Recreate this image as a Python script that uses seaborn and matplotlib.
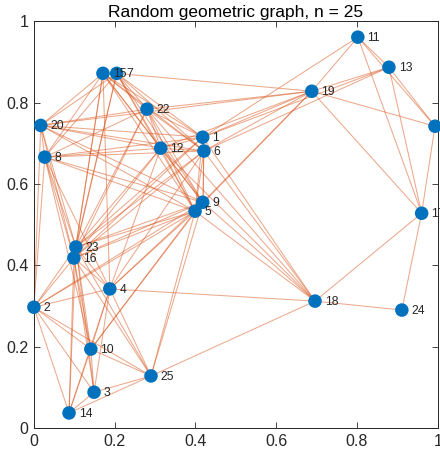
import matplotlib
matplotlib.use('Agg')
import matplotlib.pyplot as plt
import seaborn as sns
import pandas as pd

# Node positions (node id -> x, y)
node_ids = list(range(1, 26))
node_x = [0.418, 0.000, 0.149, 0.188, 0.399, 0.421, 0.205, 0.027, 0.418, 0.141,
          0.802, 0.314, 0.879, 0.087, 0.171, 0.099, 0.960, 0.696, 0.688, 0.017,
          0.993, 0.280, 0.104, 0.911, 0.290]
node_y = [0.715, 0.297, 0.088, 0.342, 0.533, 0.681, 0.872, 0.666, 0.555, 0.194,
          0.961, 0.688, 0.887, 0.037, 0.872, 0.418, 0.528, 0.312, 0.828, 0.744,
          0.742, 0.784, 0.445, 0.290, 0.128]

# Edge list (undirected)
edges = [
    (15, 7), (15, 20), (15, 8), (15, 22), (15, 12), (15, 1), (15, 6), (15, 5), (15, 9),
    (15, 23), (15, 16), (15, 4),
    (7, 20), (7, 8), (7, 22), (7, 12), (7, 1), (7, 6), (7, 5), (7, 9), (7, 23), (7, 16), (7, 19),
    (20, 8), (20, 22), (20, 12), (20, 1), (20, 6), (20, 5), (20, 9), (20, 23), (20, 16), (20, 2), (20, 19),
    (8, 22), (8, 12), (8, 6), (8, 1), (8, 5), (8, 9), (8, 23), (8, 16), (8, 2), (8, 10), (8, 4),
    (22, 12), (22, 1), (22, 6), (22, 5), (22, 9), (22, 23), (22, 16), (22, 18), (22, 19),
    (12, 1), (12, 6), (12, 5), (12, 9), (12, 23), (12, 16), (12, 4), (12, 18), (12, 19),
    (1, 6), (1, 5), (1, 9), (1, 23), (1, 16), (1, 18), (1, 19), (1, 11), (1, 13),
    (6, 5), (6, 9), (6, 23), (6, 16), (6, 4), (6, 18), (6, 19), (6, 13),
    (9, 5), (9, 23), (9, 16), (9, 4), (9, 2), (9, 10), (9, 25), (9, 18), (9, 19),
    (5, 23), (5, 16), (5, 4), (5, 2), (5, 10), (5, 25), (5, 18), (5, 19),
    (23, 16), (23, 2), (23, 4), (23, 10), (23, 3), (23, 14), (23, 25),
    (16, 2), (16, 4), (16, 10), (16, 3), (16, 14), (16, 25),
    (4, 2), (4, 10), (4, 14), (4, 25), (4, 3), (4, 18),
    (2, 10), (2, 3), (2, 14), (2, 25),
    (10, 3), (10, 14), (10, 25),
    (3, 14), (3, 25), (14, 25),
    (11, 19), (11, 13), (11, 21), (11, 17),
    (13, 19), (13, 21), (13, 17),
    (19, 21), (19, 17), (21, 17),
    (17, 24), (17, 18), (18, 24), (18, 25),
]

nodes = pd.DataFrame({'id': node_ids, 'x': node_x, 'y': node_y}).set_index('id')

sns.set_theme(style='white')
plt.rcParams['font.family'] = ['Liberation Sans', 'DejaVu Sans']

fig = plt.figure(figsize=(4.4, 4.58), dpi=100)
ax = fig.add_axes([0.077, 0.0655, 0.918, 0.888])

# Edges
for a, b in edges:
    ax.plot([nodes.loc[a, 'x'], nodes.loc[b, 'x']],
            [nodes.loc[a, 'y'], nodes.loc[b, 'y']],
            color='#D95319', alpha=0.5, lw=0.75, zorder=1, solid_capstyle='butt')

# Nodes
sns.scatterplot(data=nodes.reset_index(), x='x', y='y', ax=ax, s=95,
                color='#0072BD', edgecolor='none', zorder=3, clip_on=False, legend=False)

# Node labels (the ones beside the right edge run off the figure, as in the original)
for nid, row in nodes.iterrows():
    ax.annotate(str(nid), (row['x'], row['y']), xytext=(7, -0.5),
                textcoords='offset points', va='center', ha='left',
                fontsize=8.7, color='#262626', annotation_clip=False, zorder=4)

ax.set_xlim(0, 1)
ax.set_ylim(0, 1)
ax.set_xticks([0, 0.2, 0.4, 0.6, 0.8, 1])
ax.set_xticklabels(['0', '0.2', '0.4', '0.6', '0.8', '1'])
ax.set_yticks([0, 0.2, 0.4, 0.6, 0.8, 1])
ax.set_yticklabels(['0', '0.2', '0.4', '0.6', '0.8', '1'])
ax.set_xlabel('')
ax.set_ylabel('')
ax.tick_params(direction='in', length=4, width=0.6, color='#262626',
               labelsize=11.5, labelcolor='#262626', top=True, right=True,
               bottom=True, left=True, pad=4)
for sp in ax.spines.values():
    sp.set_color('#262626')
    sp.set_linewidth(0.7)
ax.set_title('Random geometric graph, n = 25', fontsize=12.5, color='#000000', pad=3)

fig.savefig('out.png', dpi=100)
